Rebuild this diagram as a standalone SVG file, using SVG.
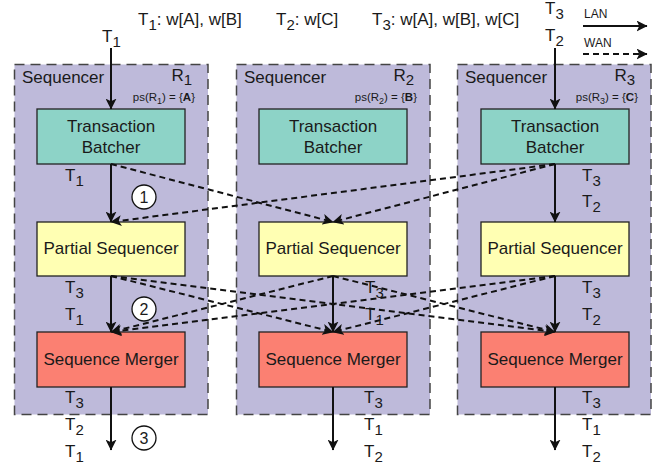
<svg xmlns="http://www.w3.org/2000/svg" width="656" height="467" viewBox="0 0 656 467">
<defs>
<marker id="ah" viewBox="0 0 10 10" refX="9.5" refY="5" markerWidth="11" markerHeight="11" markerUnits="userSpaceOnUse" orient="auto">
<path d="M0,0 L10,5 L0,10 L2.5,5 z" fill="#111"/>
</marker>
<style>
.seq{fill:#bebada;stroke:#444;stroke-width:1.5;stroke-dasharray:10 6}
.tb{fill:#8dd3c7;stroke:#222;stroke-width:1.3}
.ps{fill:#ffffb3;stroke:#222;stroke-width:1.3}
.sm{fill:#fb8072;stroke:#222;stroke-width:1.3}
text{font-family:"Liberation Sans",Arial,sans-serif;fill:#1a1a1a}
.lbl{font-size:17px;text-anchor:middle}
.t{font-size:17px}
.small{font-size:12px}
.ps-t{font-size:11.5px}
.solid{stroke:#111;stroke-width:2;fill:none;marker-end:url(#ah)}
.dash{stroke:#111;stroke-width:2;fill:none;stroke-dasharray:6 4;marker-end:url(#ah)}
.circ{fill:#fff;stroke:#111;stroke-width:1.3}
</style>
</defs>

<!-- header texts -->
<g id="header">
<text class="t" x="138" y="25">T<tspan dy="5" font-size="15">1</tspan><tspan dy="-5">: w[A], w[B]</tspan></text>
<text class="t" x="276" y="25">T<tspan dy="5" font-size="15">2</tspan><tspan dy="-5">: w[C]</tspan></text>
<text class="t" x="372" y="25">T<tspan dy="5" font-size="15">3</tspan><tspan dy="-5">: w[A], w[B], w[C]</tspan></text>
<text class="t" x="102" y="42">T<tspan dy="5" font-size="15">1</tspan></text>
<text class="t" x="545" y="14">T<tspan dy="5" font-size="15">3</tspan></text>
<text class="t" x="545" y="41">T<tspan dy="5" font-size="15">2</tspan></text>
</g>

<g id="legend">
<text class="small" x="584" y="18">LAN</text>
<text class="small" x="584" y="47">WAN</text>
<line class="solid" x1="583" y1="26" x2="647" y2="26"/>
<line class="dash" x1="583" y1="54" x2="647" y2="54"/>
</g>

<!-- Sequencer R1 -->
<g id="R1">
<rect class="seq" x="14.5" y="64.5" width="193.5" height="350"/>
<text class="t" x="22" y="83">Sequencer</text>
<text class="t" x="192" y="81" text-anchor="end">R<tspan dy="4" font-size="15">1</tspan></text>
<text class="ps-t" x="195" y="101" text-anchor="end">ps(R<tspan dy="2.5" font-size="9">1</tspan><tspan dy="-2.5">) = {</tspan><tspan font-weight="bold">A</tspan>}</text>
</g>
<g id="R2">
<rect class="seq" x="236.5" y="64.5" width="193.5" height="350"/>
<text class="t" x="244" y="83">Sequencer</text>
<text class="t" x="414" y="81" text-anchor="end">R<tspan dy="4" font-size="15">2</tspan></text>
<text class="ps-t" x="417" y="101" text-anchor="end">ps(R<tspan dy="2.5" font-size="9">2</tspan><tspan dy="-2.5">) = {</tspan><tspan font-weight="bold">B</tspan>}</text>
</g>
<g id="R3">
<rect class="seq" x="457.5" y="64.5" width="193.5" height="350"/>
<text class="t" x="465" y="83">Sequencer</text>
<text class="t" x="635" y="81" text-anchor="end">R<tspan dy="4" font-size="15">3</tspan></text>
<text class="ps-t" x="638" y="101" text-anchor="end">ps(R<tspan dy="2.5" font-size="9">3</tspan><tspan dy="-2.5">) = {</tspan><tspan font-weight="bold">C</tspan>}</text>
</g>

<!-- Transaction batchers -->
<g id="tb1"><rect class="tb" x="37" y="109" width="148" height="55"/><text class="lbl" x="111" y="132">Transaction</text><text class="lbl" x="111" y="153">Batcher</text></g>
<g id="tb2"><rect class="tb" x="259" y="109" width="148" height="55"/><text class="lbl" x="333" y="132">Transaction</text><text class="lbl" x="333" y="153">Batcher</text></g>
<g id="tb3"><rect class="tb" x="481" y="109" width="148" height="55"/><text class="lbl" x="555" y="132">Transaction</text><text class="lbl" x="555" y="153">Batcher</text></g>

<!-- Partial sequencers -->
<g id="ps1"><rect class="ps" x="37" y="222" width="148" height="54"/><text class="lbl" x="111" y="254">Partial Sequencer</text></g>
<g id="ps2"><rect class="ps" x="259" y="222" width="148" height="54"/><text class="lbl" x="333" y="254">Partial Sequencer</text></g>
<g id="ps3"><rect class="ps" x="481" y="222" width="148" height="54"/><text class="lbl" x="555" y="254">Partial Sequencer</text></g>

<!-- Sequence mergers -->
<g id="sm1"><rect class="sm" x="37" y="332" width="148" height="55"/><text class="lbl" x="111" y="365">Sequence Merger</text></g>
<g id="sm2"><rect class="sm" x="259" y="332" width="148" height="55"/><text class="lbl" x="333" y="365">Sequence Merger</text></g>
<g id="sm3"><rect class="sm" x="481" y="332" width="148" height="55"/><text class="lbl" x="555" y="365">Sequence Merger</text></g>

<!-- connectors -->
<g id="connectors">
<line class="solid" x1="111" y1="48" x2="111" y2="109"/>
<line class="solid" x1="555" y1="48" x2="555" y2="109"/>
<line class="solid" x1="111" y1="164" x2="111" y2="222"/>
<line class="solid" x1="555" y1="164" x2="555" y2="222"/>
<line class="solid" x1="111" y1="276" x2="111" y2="332"/>
<line class="solid" x1="333" y1="276" x2="333" y2="332"/>
<line class="solid" x1="555" y1="276" x2="555" y2="332"/>
<line class="solid" x1="111" y1="387" x2="111" y2="450"/>
<line class="solid" x1="333" y1="387" x2="333" y2="450"/>
<line class="solid" x1="555" y1="387" x2="555" y2="450"/>
<line class="dash" x1="111" y1="164" x2="333" y2="222"/>
<line class="dash" x1="555" y1="164" x2="333" y2="222"/>
<line class="dash" x1="555" y1="164" x2="111" y2="222"/>
<line class="dash" x1="111" y1="276" x2="333" y2="332"/>
<line class="dash" x1="111" y1="276" x2="555" y2="332"/>
<line class="dash" x1="333" y1="276" x2="111" y2="332"/>
<line class="dash" x1="333" y1="276" x2="555" y2="332"/>
<line class="dash" x1="555" y1="276" x2="111" y2="332"/>
<line class="dash" x1="555" y1="276" x2="333" y2="332"/>
</g>

<!-- step markers -->
<g id="step1"><circle class="circ" cx="144" cy="197" r="12"/><text x="144" y="203" font-size="16" text-anchor="middle">1</text></g>
<g id="step2"><circle class="circ" cx="144" cy="309" r="12"/><text x="144" y="315" font-size="16" text-anchor="middle">2</text></g>
<g id="step3"><circle class="circ" cx="144" cy="438" r="12"/><text x="144" y="444" font-size="16" text-anchor="middle">3</text></g>

<!-- transaction labels -->
<g id="tlabels">
<text class="t" x="65" y="181">T<tspan dy="5" font-size="15">1</tspan></text>
<text class="t" x="65" y="293">T<tspan dy="5" font-size="15">3</tspan></text>
<text class="t" x="65" y="320">T<tspan dy="5" font-size="15">1</tspan></text>
<text class="t" x="65" y="403">T<tspan dy="5" font-size="15">3</tspan></text>
<text class="t" x="65" y="430">T<tspan dy="5" font-size="15">2</tspan></text>
<text class="t" x="65" y="457">T<tspan dy="5" font-size="15">1</tspan></text>

<text class="t" x="365" y="293">T<tspan dy="5" font-size="15">3</tspan></text>
<text class="t" x="365" y="320">T<tspan dy="5" font-size="15">1</tspan></text>
<text class="t" x="364" y="403">T<tspan dy="5" font-size="15">3</tspan></text>
<text class="t" x="364" y="430">T<tspan dy="5" font-size="15">1</tspan></text>
<text class="t" x="364" y="457">T<tspan dy="5" font-size="15">2</tspan></text>

<text class="t" x="582" y="181">T<tspan dy="5" font-size="15">3</tspan></text>
<text class="t" x="582" y="207">T<tspan dy="5" font-size="15">2</tspan></text>
<text class="t" x="582" y="293">T<tspan dy="5" font-size="15">3</tspan></text>
<text class="t" x="582" y="320">T<tspan dy="5" font-size="15">2</tspan></text>
<text class="t" x="582" y="403">T<tspan dy="5" font-size="15">3</tspan></text>
<text class="t" x="582" y="430">T<tspan dy="5" font-size="15">1</tspan></text>
<text class="t" x="582" y="457">T<tspan dy="5" font-size="15">2</tspan></text>
</g>
</svg>
